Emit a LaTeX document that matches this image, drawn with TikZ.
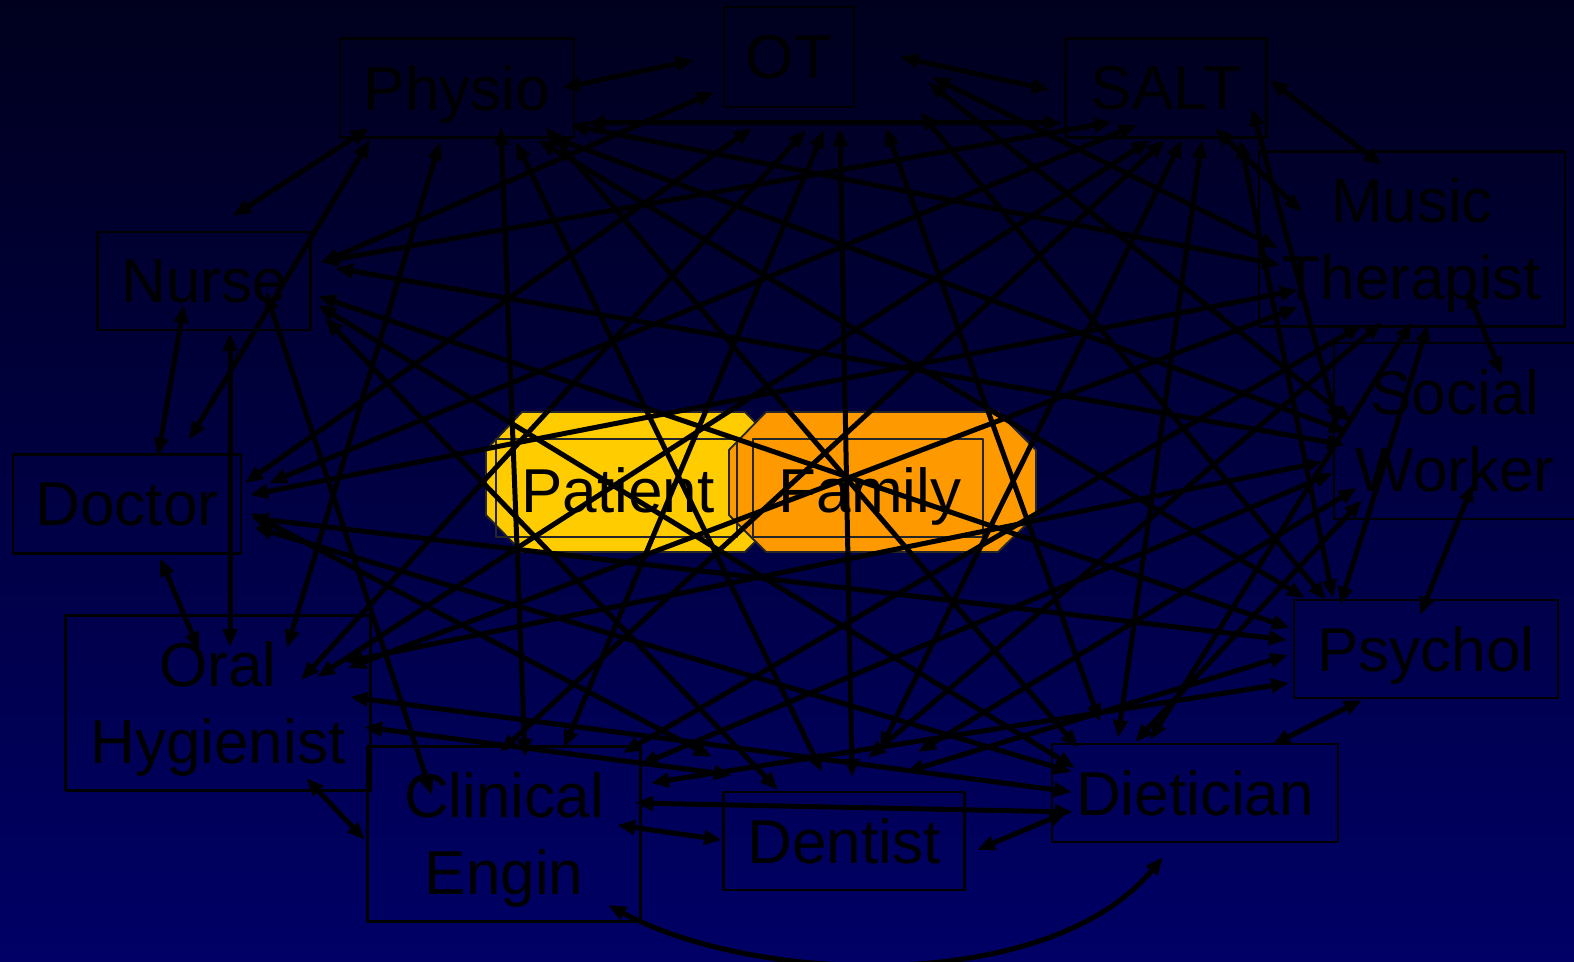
\documentclass[tikz,border=0pt]{standalone}
\usepackage{fontspec}
\setmainfont{Liberation Sans}
\usetikzlibrary{arrows.meta,calc}
\definecolor{bgtop}{RGB}{0,0,30}
\definecolor{bgbot}{RGB}{0,0,102}
\definecolor{ptyellow}{RGB}{255,204,0}
\definecolor{fmorange}{RGB}{255,153,0}
\tikzset{
  team/.style={draw=black,line width=1.4pt,inner sep=0pt,align=center,text depth=0pt,
    font=\fontsize{31}{38.5}\selectfont},
  core/.style={inner sep=0pt,text depth=0pt,font=\fontsize{31}{38.5}\selectfont},
  blob/.style={draw=black!85,line width=0.9pt},
  link/.style={line width=2.5pt,{Triangle[length=9pt,width=7pt]}-{Triangle[length=9pt,width=7pt]}},
}
\begin{document}
\begin{tikzpicture}[x=0.5pt,y=-0.5pt,line cap=round,line join=round]
  \shade[top color=bgtop,bottom color=bgbot] (0,0) rectangle (1574,962);
  \useasboundingbox (0,0) rectangle (1574,962);
  % patient and family in the middle
  \draw[blob,fill=ptyellow] (522,412)--(745,412)--(782,450)--(782,515)--(745,552)--(522,552)--(486,515)--(486,450)--cycle;
  \draw[blob,fill=fmorange] (766,412)--(998,412)--(1036,450)--(1036,515)--(998,552)--(766,552)--(729,515)--(729,450)--cycle;
  \draw[blob] (496,439) rectangle (737,537);
  \draw[blob] (753,439) rectangle (983,537);
  \node[core] (patient) at (618,490) {Patient};
  \node[core] (family) at (870,490) {Family};
  % team members
  \node[team,minimum width=65pt,minimum height=50pt] (ot) at (789,57) {OT};
  \node[team,minimum width=117pt,minimum height=49.5pt] (physio) at (457,88) {Physio};
  \node[team,minimum width=100.5pt,minimum height=49.5pt] (salt) at (1166,88) {SALT};
  \node[team,minimum width=153pt,minimum height=87.5pt] (music) at (1412,239) {Music\\Therapist};
  \node[team,minimum width=106.5pt,minimum height=49pt] (nurse) at (204,281) {Nurse};
  \node[team,minimum width=121pt,minimum height=88pt] (social) at (1455,431) {Social\\Worker};
  \node[team,minimum width=114pt,minimum height=49.5pt] (doctor) at (127,504) {Doctor};
  \node[team,minimum width=152.5pt,minimum height=87.5pt] (oral) at (218,703) {Oral\\Hygienist};
  \node[team,minimum width=132pt,minimum height=49pt] (psychol) at (1426,649) {Psychol};
  \node[team,minimum width=136.5pt,minimum height=87.5pt] (clinical) at (504,834) {Clinical\\Engin};
  \node[team,minimum width=120.5pt,minimum height=49pt] (dentist) at (844,841) {Dentist};
  \node[team,minimum width=143pt,minimum height=49pt] (dietician) at (1195,793) {Dietician};
  % links from physio
  \draw[link] ($(physio)+(105,0)$) -- ($(ot)+(-95,3)$);
  \draw[link] ($(physio)+(130,35)$) -- ($(salt)+(-104,35)$);
  \draw[link] ($(physio)+(-88,40)$) -- ($(nurse)+(29,-65)$);
  \draw[link] ($(physio)+(-87,52)$) -- ($(doctor)+(62,-64)$);
  \draw[link] ($(physio)+(-17,54)$) -- ($(oral)+(69,-55)$);
  \draw[link] ($(physio)+(44,39)$) -- ($(clinical)+(21,-77)$);
  \draw[link] ($(physio)+(59,54)$) -- ($(dentist)+(-22,-69)$);
  \draw[link] ($(physio)+(88,39)$) -- ($(dietician)+(-117,-45)$);
  \draw[link] ($(physio)+(113,37)$) -- ($(music)+(-132,26)$);
  \draw[link] ($(physio)+(95,49)$) -- ($(social)+(-108,1)$);
  \draw[link] ($(physio)+(81,52)$) -- ($(psychol)+(-121,-51)$);
  % links from ot
  \draw[link] ($(ot)+(111,0)$) -- ($(salt)+(-116,2)$);
  \draw[link] ($(ot)+(-75,35)$) -- ($(nurse)+(117,-18)$);
  \draw[link] ($(ot)+(-37,71)$) -- ($(doctor)+(118,-21)$);
  \draw[link] ($(ot)+(17,73)$) -- ($(oral)+(83,-23)$);
  \draw[link] ($(ot)+(35,73)$) -- ($(clinical)+(60,-86)$);
  \draw[link] ($(ot)+(51,71)$) -- ($(dentist)+(8,-64)$);
  \draw[link] ($(ot)+(97,71)$) -- ($(dietician)+(-95,-71)$);
  \draw[link] ($(ot)+(131,55)$) -- ($(psychol)+(-100,-49)$);
  \draw[link] ($(ot)+(143,20)$) -- ($(music)+(-134,9)$);
  \draw[link] ($(ot)+(139,25)$) -- ($(social)+(-103,-9)$);
  % links from salt
  \draw[link] ($(salt)+(-54,34)$) -- ($(nurse)+(116,-19)$);
  \draw[link] ($(salt)+(-29,37)$) -- ($(doctor)+(142,-21)$);
  \draw[link] ($(salt)+(104,-8)$) -- ($(music)+(-30,-74)$);
  \draw[link] ($(salt)+(49,40)$) -- ($(music)+(-110,-27)$);
  \draw[link] ($(salt)+(86,20)$) -- ($(social)+(-117,-6)$);
  \draw[link] ($(salt)+(74,52)$) -- ($(psychol)+(-93,-51)$);
  \draw[link] ($(salt)+(36,52)$) -- ($(dietician)+(-77,-55)$);
  \draw[link] ($(salt)+(16,52)$) -- ($(dentist)+(36,-91)$);
  \draw[link] ($(salt)+(-1,52)$) -- ($(clinical)+(-4,-82)$);
  \draw[link] ($(salt)+(-16,52)$) -- ($(oral)+(99,-26)$);
  % links from music
  \draw[link] ($(music)+(55,51)$) -- ($(social)+(47,-56)$);
  \draw[link] ($(music)+(-114,51)$) -- ($(doctor)+(123,-9)$);
  \draw[link] ($(music)+(-114,68)$) -- ($(oral)+(130,-35)$);
  \draw[link] ($(music)+(-50,86)$) -- ($(clinical)+(119,-81)$);
  \draw[link] ($(music)+(-30,83)$) -- ($(dentist)+(24,-83)$);
  \draw[link] ($(music)+(0,83)$) -- ($(dietician)+(-45,-53)$);
  \draw[link] ($(music)+(16,86)$) -- ($(psychol)+(-86,-44)$);
  % links from nurse
  \draw[link] ($(nurse)+(-20,24)$) -- ($(doctor)+(31,-48)$);
  \draw[link] ($(nurse)+(26,52)$) -- ($(oral)+(12,-56)$);
  \draw[link] ($(nurse)+(131,-13)$) -- ($(social)+(-110,14)$);
  \draw[link] ($(nurse)+(62,11)$) -- ($(clinical)+(-72,-39)$);
  \draw[link] ($(nurse)+(121,37)$) -- ($(dentist)+(-66,-51)$);
  \draw[link] ($(nurse)+(114,24)$) -- ($(dietician)+(-120,-25)$);
  \draw[link] ($(nurse)+(114,15)$) -- ($(psychol)+(-136,-21)$);
  % links from doctor
  \draw[link] ($(doctor)+(33,54)$) -- ($(oral)+(-19,-53)$);
  \draw[link] ($(doctor)+(124,14)$) -- ($(psychol)+(-139,-9)$);
  \draw[link] ($(doctor)+(127,23)$) -- ($(dietician)+(-123,-21)$);
  \draw[link] ($(doctor)+(123,9)$) -- ($(dentist)+(-132,-84)$);
  % links from oral
  \draw[link] ($(oral)+(88,75)$) -- ($(clinical)+(-139,6)$);
  \draw[link] ($(oral)+(146,24)$) -- ($(dentist)+(-112,-66)$);
  \draw[link] ($(oral)+(132,-6)$) -- ($(dietician)+(-123,-1)$);
  \draw[link] ($(oral)+(127,-41)$) -- ($(social)+(-133,31)$);
  % links from clinical
  \draw[link] ($(clinical)+(113,-9)$) -- ($(dentist)+(-122,-1)$);
  \draw[link] ($(clinical)+(131,-31)$) -- ($(dietician)+(-122,19)$);
  \draw[link] ($(clinical)+(104,71)$) .. controls ($(clinical)+(256,152)$) and ($(dietician)+(-145,200)$) .. ($(dietician)+(-32,64)$);
  \draw[link] ($(clinical)+(147,-51)$) -- ($(psychol)+(-137,34)$);
  \draw[link] ($(clinical)+(136,-69)$) -- ($(social)+(-122,42)$);
  % links from dentist, dietician, psychol
  \draw[link] ($(dentist)+(133,9)$) -- ($(dietician)+(-128,19)$);
  \draw[link] ($(dentist)+(62,-69)$) -- ($(psychol)+(-138,6)$);
  \draw[link] ($(dentist)+(74,-89)$) -- ($(social)+(-98,57)$);
  \draw[link] ($(dietician)+(77,-48)$) -- ($(psychol)+(-64,51)$);
  \draw[link] ($(dietician)+(-60,-51)$) -- ($(social)+(-93,69)$);
  \draw[link] ($(psychol)+(-6,-34)$) -- ($(social)+(18,53)$);
\end{tikzpicture}
\end{document}
